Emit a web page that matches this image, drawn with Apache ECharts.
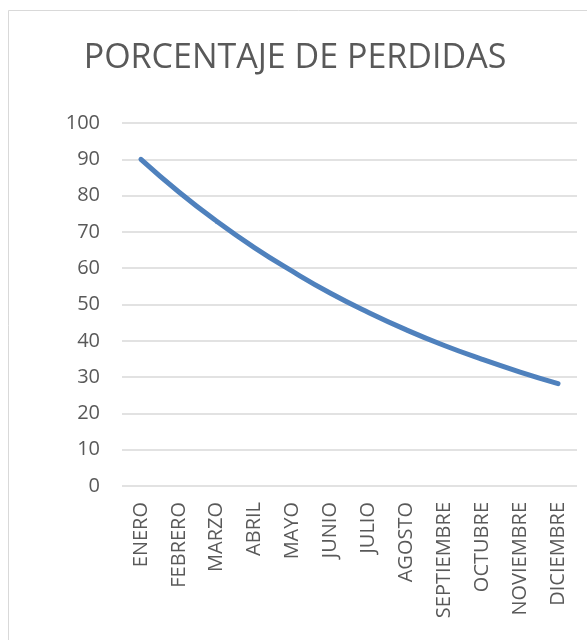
<!DOCTYPE html>
<html>
<head>
<meta charset="utf-8">
<script src="https://cdn.jsdelivr.net/npm/echarts@6/dist/echarts.min.js"></script>
<style>
html,body{margin:0;padding:0;background:#fff;}
#grafica{width:587px;height:640px;}
</style>
</head>
<body>
<div id="grafica"></div>
<script>
var titulo = 'PORCENTAJE DE PERDIDAS';
var meses = ['ENERO','FEBRERO','MARZO','ABRIL','MAYO','JUNIO','JULIO','AGOSTO','SEPTIEMBRE','OCTUBRE','NOVIEMBRE','DICIEMBRE'];
var perdidas = [90, 81, 72.9, 65.6, 59.1, 53.1, 47.8, 43.0, 38.7, 34.9, 31.4, 28.2];
var yMin = 0, yMax = 100, yPaso = 10;

var myChart = echarts.init(document.getElementById('grafica'));
var option = {
  backgroundColor: '#fff',
  title: {                                  //titulo
    text: titulo,
    left: 290,
    textAlign: 'center',
    top: 36,
    textStyle: {
      color: '#595959',
      fontFamily: 'Open Sans',
      fontWeight: 'normal',
      fontSize: 34
    }
  },
  graphic: [{                               //borde del area
    type: 'rect',
    silent: true,
    shape: {x: 8.5, y: 10.5, width: 700, height: 800},
    style: {fill: 'none', stroke: '#d9d9d9', lineWidth: 1}
  }],
  grid: {
    left: 122,
    right: 10,
    top: 123,
    bottom: 154
  },
  xAxis: {
    type: 'category',
    boundaryGap: true,
    data: meses,
    axisLine: {show: false},
    axisTick: {show: false},
    axisLabel: {
      rotate: 90,
      interval: 0,
      margin: 16,
      color: '#595959',
      fontFamily: 'Open Sans',
      fontSize: 20
    }
  },
  yAxis: {
    type: 'value',
    min: yMin,
    max: yMax,
    interval: yPaso,
    axisLine: {show: false},
    axisTick: {show: false},
    axisLabel: {
      margin: 22,
      color: '#595959',
      fontFamily: 'Open Sans',
      fontSize: 20
    },
    splitLine: {
      lineStyle: {color: '#d9d9d9', width: 1.5}
    }
  },
  series: [{
    name: titulo,
    type: 'line',
    smooth: true,
    symbol: 'none',
    data: perdidas,
    lineStyle: {color: '#4f81bd', width: 5, cap: 'round'}
  }]
};
myChart.setOption(option);
</script>
</body>
</html>
